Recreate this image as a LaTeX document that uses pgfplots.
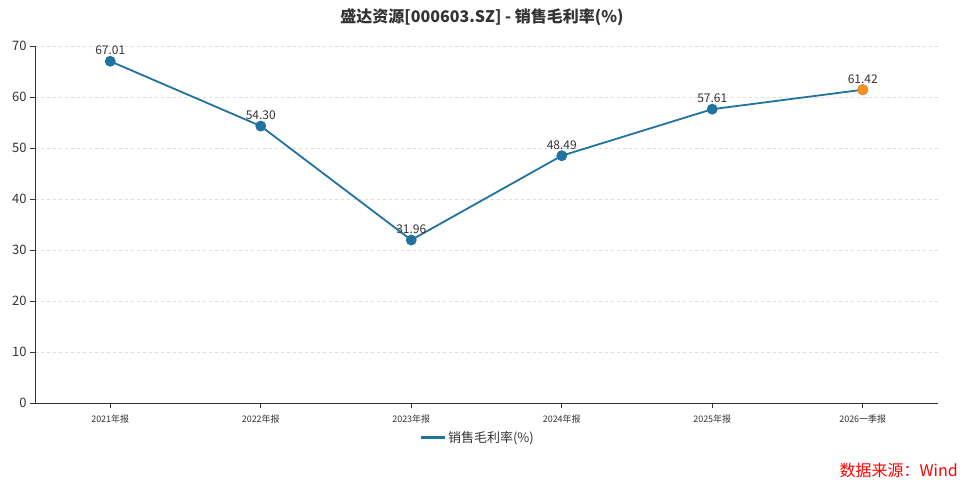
\documentclass[border=0pt]{standalone}
\usepackage{pgfplots}
\pgfplotsset{compat=1.18}
\usepackage{fontspec}
\setmainfont{Noto Sans CJK SC}
\definecolor{lineblue}{HTML}{21739F}
\definecolor{ptorange}{HTML}{F7901E}
\definecolor{txt}{HTML}{333333}
\definecolor{gridc}{HTML}{DDDDDD}
\begin{document}
\begin{tikzpicture}[x=1pt,y=1pt]
\path[use as bounding box] (-35,-82) rectangle (929,403);
\begin{axis}[
  at={(0,0)}, anchor=south west,
  scale only axis, width=903pt, height=357pt,
  xmin=-0.5, xmax=5.5, ymin=0, ymax=70,
  xtick={0,1,2,3,4,5},
  xticklabels={2021年报,2022年报,2023年报,2024年报,2025年报,2026一季报},
  ytick={0,10,20,30,40,50,60,70},
  axis x line*=bottom, axis y line*=left,
  axis line style={txt, line width=0.8pt, -},
  tick align=outside, major tick length=5pt,
  tick style={txt, line width=0.8pt},
  ymajorgrids, grid style={gridc, dashed, line width=0.6pt},
  /pgf/number format/assume math mode=true,
  yticklabel style={font=\fontsize{13}{15}\selectfont, text=txt},
  xticklabel style={font=\fontsize{9}{11}\selectfont, text=txt, yshift=-3pt},
  legend style={at={(0.49,-0.098)}, anchor=center, draw=none, fill=none,
    font=\fontsize{13}{15}\selectfont, text=txt},
  legend image code/.code={\draw[lineblue, line width=3pt] (0,0) -- (24pt,0);},
]
\addplot[lineblue, line width=1.8pt, mark=*, mark size=4.5pt,
  mark options={fill=lineblue, draw=lineblue},
  nodes near coords, point meta=explicit symbolic,
  every node near coord/.append style={font=\fontsize{12}{14}\selectfont, text=txt, yshift=2pt}]
  table[meta=lab] {
  x y lab
  0 67.01 67.01
  1 54.30 54.30
  2 31.96 31.96
  3 48.49 48.49
  4 57.61 57.61
  5 61.42 61.42
  };
\addlegendentry{销售毛利率(\%)}
\addplot[only marks, line width=1.8pt, mark=*, mark size=4.5pt, mark options={fill=ptorange, draw=ptorange}, forget plot]
  coordinates {(5,61.42)};
\end{axis}
\node[font=\bfseries\fontsize{16}{19}\selectfont, text=txt] at (447,386) {盛达资源[000603.SZ] - 销售毛利率(\%)};
\node[font=\fontsize{16}{19}\selectfont, text=red, anchor=east, inner sep=0pt] at (923,-67) {数据来源：Wind};
\end{tikzpicture}
\end{document}
